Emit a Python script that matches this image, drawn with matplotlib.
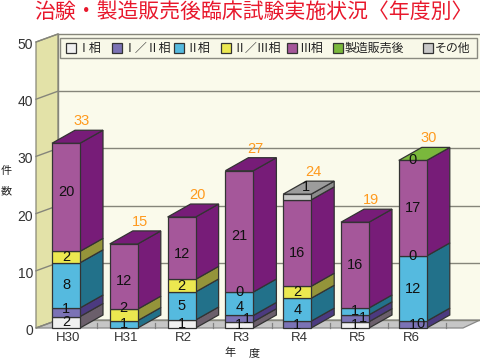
import matplotlib
matplotlib.use("Agg")
import matplotlib.pyplot as plt
from matplotlib.patches import Polygon, Rectangle

plt.rcParams['font.family'] = ['Liberation Sans', 'Noto Sans CJK JP', 'DejaVu Sans']
CJK = ['Noto Sans CJK JP', 'DejaVu Sans']

title = "治験・製造販売後臨床試験実施状況〈年度別〉"
years = ["H30", "H31", "R2", "R3", "R4", "R5", "R6"]
series_names = ["Ⅰ相", "Ⅰ／Ⅱ相", "Ⅱ相", "Ⅱ／Ⅲ相", "Ⅲ相", "製造販売後", "その他"]
totals = [33, 15, 20, 27, 24, 19, 30]
yticks = [0, 10, 20, 30, 40, 50]

# Segment heights as drawn in the picture, one list per phase
phase1 = [2.0, 0, 1.4, 1.1, 0, 1.1, 0]
phase12 = [1.5, 0, 0, 1.1, 1.2, 1.2, 1.2]
phase2 = [7.9, 1.3, 4.9, 4.1, 4.0, 1.2, 11.4]
phase23 = [2.0, 2.0, 2.2, 0, 2.1, 0, 0]
phase3 = [18.9, 11.4, 10.9, 21.2, 15.1, 15.0, 16.7]
post = [0, 0, 0, 0, 0, 0, 0]
other = [0, 0, 0, 0, 1.0, 0, 0]

# Printed labels (None = no label printed)
lab1 = [2, None, 1, 1, None, 1, 0]
lab12 = [1, None, None, 1, 1, 1, 1]
lab2 = [8, 1, 5, 4, 4, 1, 12]
lab23 = [2, 2, 2, 0, 2, None, 0]
lab3 = [20, 12, 12, 21, 16, 16, 17]
labpost = [None, None, None, None, None, None, 0]
labother = [None, None, None, None, 1, None, None]

heights = [phase1, phase12, phase2, phase23, phase3, post, other]
labels = [lab1, lab12, lab2, lab23, lab3, labpost, labother]

front = ['#f0f0f0', '#7b72b5', '#55badf', '#ece850', '#a5579a', '#7ab83c', '#c8c8c8']
side = ['#6b5f6b', '#4c3a80', '#22718a', '#94943a', '#771c78', '#4f8a20', '#8c8c8c']
topc = ['#c0c0c0', '#5a4f98', '#2f8fb0', '#b8b840', '#771c78', '#7ab83c', '#9c9c9c']

PX = 5.72          # pixels per unit
BASE = 328         # pixel row of value 0
W, H = 480, 359

fig = plt.figure(figsize=(4.8, 3.59), dpi=100, facecolor='white')
ax = fig.add_axes([0, 0, 1, 1])
ax.set_xlim(0, W)
ax.set_ylim((BASE - H) / PX, BASE / PX)
ax.axis('off')

def dy(px):
    return px / PX

def poly(pts, fc, ec='#333333', lw=0.9, z=3):
    ax.add_patch(Polygon(pts, closed=True, fc=fc, ec=ec, lw=lw, zorder=z))

# Walls and floor
WL, WB, WR = 36, 58, 480
D = dy(8)
poly([(WB, D), (WR, D), (WR, 50 + D), (WB, 50 + D)], '#fafaeb', 'none', 0, 1)
poly([(WL, 0), (WB, D), (WB, 50 + D), (WL, 50)], '#e3e2a8', '#888878', 0.9, 1)
poly([(WL, 0), (463, 0), (WR, D), (WB, D)], '#c6c6c6', '#888888', 0.9, 1)
for v in yticks:
    ax.plot([WB, WR], [v + D, v + D], color='#85857a', lw=1.0, zorder=1.5)
    ax.plot([WL, WB], [v, v + D], color='#85857a', lw=1.0, zorder=1.5)
    ax.text(33, v - dy(3), str(v), ha='right', va='center', fontsize=10, color='#333333', zorder=6)
ax.plot([WB, WB], [D, 50 + D], color='#85857a', lw=1.0, zorder=1.5)
for k in range(7):
    x = 97 + 58.2 * k
    ax.plot([x, x], [0, dy(5)], color='#808080', lw=0.9, zorder=1.6)

# Bars
BW, DX, DY = 28, 23, dy(13)
X0, STEP = 52, 57.8
NUDGED = {(3, 1), (5, 1), (6, 0)}
# pixel adjustments of printed numbers that sit off-centre in the reference
LABEL_SHIFT = {(0, 4): 5, (1, 4): -4, (2, 4): -6, (3, 4): -5, (4, 4): -10,
               (1, 3): 7, (3, 2): -3, (0, 1): 3, (6, 0): 4}
for i, yr in enumerate(years):
    x = X0 + STEP * i
    bottom = 0
    last = 0
    for s in range(7):
        h = heights[s][i]
        if labels[s][i] is not None:
            last = s
        if h <= 0:
            continue
        t = bottom + h
        poly([(x + BW, bottom), (x + BW + DX, bottom + DY), (x + BW + DX, t + DY), (x + BW, t)], side[s], z=3 + i * 0.01)
        poly([(x, bottom), (x + BW, bottom), (x + BW, t), (x, t)], front[s], z=3 + i * 0.01)
        bottom = t
    poly([(x, bottom), (x + BW, bottom), (x + BW + DX, bottom + DY), (x + DX, bottom + DY)], topc[last], z=3 + i * 0.01)
    # printed numbers
    b = 0
    for s in range(7):
        h = heights[s][i]
        lab = labels[s][i]
        if lab is not None:
            mid = b + h / 2 + dy(LABEL_SHIFT.get((i, s), 0))
            cx = x + BW / 2 + (8 if (i, s) in NUDGED else 0)
            if s == 6:
                cx += 9
                mid = b + h + dy(7)
            ax.text(cx, mid, str(lab), ha='center', va='center', fontsize=10.5, color='#111111', zorder=5)
        b += h
    ax.text(x + 30, bottom + dy(22), str(totals[i]), ha='center', va='center', fontsize=10.5, color='#ff9a1e', zorder=6)
    ax.text(x + BW / 2 + 2 - (3 if i == 6 else 0), -dy(10), yr, ha='center', va='center', fontsize=9.5, color='#333333', zorder=6)

# Legend
def py(p):
    return (BASE - p) / PX

ax.add_patch(Rectangle((60, py(58)), 417, dy(20), fc='#f8f8e8', ec='#8a8a80', lw=1.0, zorder=7))
swatch_x = [66, 112, 174, 221, 287, 333, 423]
for sx, name, c in zip(swatch_x, series_names, front):
    ax.add_patch(Rectangle((sx, py(53)), 10, dy(10), fc=c, ec='#333333', lw=0.9, zorder=8))
    ax.text(sx + 12, py(48), name, ha='left', va='center', fontsize=8.6, family=CJK, color='#222222', zorder=8)

# Title and axis captions
ax.text(253, py(12), title, ha='center', va='center', fontsize=15, family=CJK, color='#e8182c', zorder=8)
ax.text(6, py(171), "件", ha='center', va='center', fontsize=8, family=CJK, color='#222222')
ax.text(6, py(191), "数", ha='center', va='center', fontsize=8, family=CJK, color='#222222')
ax.text(230, py(353), "年", ha='center', va='center', fontsize=8, family=CJK, color='#222222')
ax.text(254, py(353), "度", ha='center', va='center', fontsize=8, family=CJK, color='#222222')

fig.savefig("out.png", dpi=100)
